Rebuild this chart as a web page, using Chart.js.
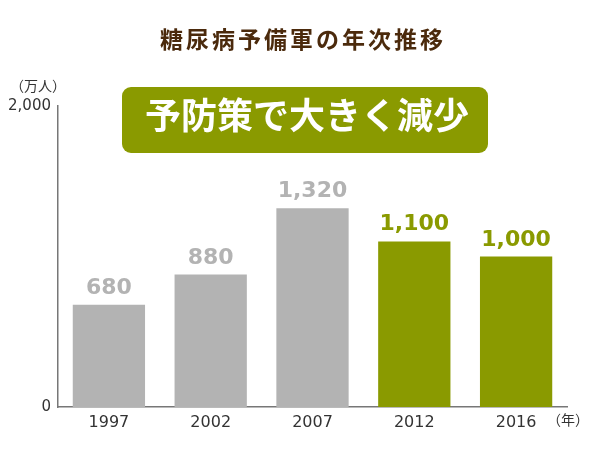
<!DOCTYPE html>
<html>
<head>
<meta charset="utf-8">
<script src="https://cdn.jsdelivr.net/npm/chart.js@4"></script>
<style>
  html, body { margin: 0; padding: 0; background: #fff; }
  #wrap { width: 600px; height: 450px; }
</style>
</head>
<body>
<div id="wrap"><canvas id="diabetesChart" width="600" height="450"></canvas></div>
<script>
// data
const years = ['1997', '2002', '2007', '2012', '2016'];
const patients = [680, 880, 1320, 1100, 1000];
const yTickValues = [0, 2000];
const yTickLabels = ['0', '2,000'];

const chartTitle = '糖尿病予備軍の年次推移';
const calloutText = '予防策で大きく減少';
const yUnit = '（万人）';
const xUnit = '（年）';

const gray = '#b3b3b3';
const green = '#8a9a00';
const barColors = years.map((y, i) => i < 3 ? gray : green);
const fontStack = '"DejaVu Sans", "Noto Sans CJK JP", sans-serif';

const extrasPlugin = {
    id: 'extras',
    afterDatasetsDraw(chart) {
        const ctx = chart.ctx;
        const meta = chart.getDatasetMeta(0);
        ctx.save();
        // value labels over the bars
        ctx.textAlign = 'center';
        ctx.textBaseline = 'alphabetic';
        ctx.font = 'bold 22px ' + fontStack;
        meta.data.forEach((bar, i) => {
            ctx.fillStyle = barColors[i];
            ctx.fillText(patients[i].toLocaleString('en-US'), bar.x, bar.y - 11);
        });

        // title
        ctx.fillStyle = '#4b2a0c';
        ctx.font = 'bold 23px ' + fontStack;
        ctx.textBaseline = 'middle';
        ctx.letterSpacing = '3px';
        ctx.fillText(chartTitle, 303, 42);
        ctx.letterSpacing = '0px';

        // callout box
        const bx = 122, by = 87, bw = 366, bh = 66, r = 9;
        ctx.fillStyle = green;
        ctx.beginPath();
        ctx.roundRect(bx, by, bw, bh, r);
        ctx.fill();
        ctx.fillStyle = '#fff';
        ctx.font = 'bold 36px ' + fontStack;
        ctx.fillText(calloutText, 307, 120);

        // unit labels
        ctx.fillStyle = '#333';
        ctx.font = '14px ' + fontStack;
        ctx.fillText(yUnit, 38, 87);
        ctx.fillText(xUnit, 568, 421);
        ctx.restore();
    }
};

const ctx = document.getElementById('diabetesChart').getContext('2d');
new Chart(ctx, {
    type: 'bar',
    data: {
        labels: years,
        datasets: [{
            data: patients,
            backgroundColor: barColors,
            borderWidth: 0,
            barPercentage: 0.71,
            categoryPercentage: 1
        }]
    },
    options: {
        responsive: false,
        animation: false,
        layout: { padding: { top: 106, right: 33, left: 0, bottom: 0 } },
        plugins: {
            legend: { display: false },
            tooltip: { enabled: false }
        },
        scales: {
            x: {
                grid: { display: false, drawTicks: false },
                border: { color: '#777', width: 1.5 },
                ticks: {
                    color: '#333',
                    font: { family: fontStack, size: 16 },
                    padding: 6
                },
                afterFit(scale) { scale.height = 43; }
            },
            y: {
                min: 0,
                max: 2000,
                grid: { display: false, drawTicks: false },
                border: { color: '#777', width: 1.5 },
                afterBuildTicks(scale) {
                    scale.ticks = yTickValues.map(v => ({ value: v }));
                },
                ticks: {
                    color: '#333',
                    font: { family: fontStack, size: 15 },
                    padding: 7,
                    callback: (value) => yTickLabels[yTickValues.indexOf(value)]
                },
                afterFit(scale) { scale.width = 58; }
            }
        }
    },
    plugins: [extrasPlugin]
});
</script>
</body>
</html>
